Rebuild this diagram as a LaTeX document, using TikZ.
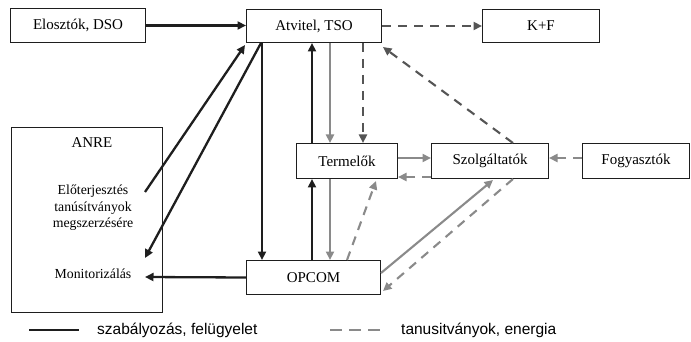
\documentclass[tikz,border=0pt]{standalone}
\usepackage{fontspec}
\setmainfont{Liberation Serif}
\newfontfamily\legfont{Liberation Sans}
\usetikzlibrary{arrows.meta,calc}
\definecolor{blk}{HTML}{1E1E1E}
\definecolor{gry}{HTML}{8A8A8A}
\definecolor{dgry}{HTML}{555555}
\tikzset{
  box/.style={draw=blk,line width=1pt,anchor=north west,inner sep=0pt,minimum height=#1,font=\fontsize{15}{18}\selectfont},
  box/.default=33pt,
  txt/.style={inner sep=0pt,font=\fontsize{13.8}{16.5}\selectfont,align=center},
  tip/.style={-{Triangle[length=8.5pt,width=8pt]}},
  blackarr/.style={tip,draw=blk,line width=2.3pt},
  grayarr/.style={tip,draw=gry,line width=2.1pt},
  dasharr/.style={tip,draw=dgry,line width=2.1pt,dash pattern=on 9pt off 7pt},
  gdasharr/.style={tip,draw=gry,line width=2.1pt,dash pattern=on 9pt off 7pt},
}
\begin{document}
\begin{tikzpicture}[x=1pt,y=-1pt]
\useasboundingbox (0,0) rectangle (691,342);
% boxes
\node[box=34pt,minimum width=135pt] (dso) at (10,8) {Elosztók, DSO};
\node[box,minimum width=135pt] (tso) at (246,9) {Atvitel, TSO};
\node[box,minimum width=117pt] (kf) at (482,9) {K+F};
\node[box=185pt,minimum width=151pt] (anre) at (11,127) {};
\node[box=35pt,minimum width=101pt] (term) at (296,143) {Termelők};
\node[box=35pt,minimum width=117pt] (szolg) at (431,143) {Szolgáltatók};
\node[box=35pt,minimum width=107pt] (fogy) at (582,143) {Fogyasztók};
\node[box=34pt,minimum width=134pt] (opcom) at (246,260) {OPCOM};
% ANRE texts
\node[txt,font=\fontsize{15}{18}\selectfont] (anret) at (92,143) {ANRE};
\node[txt] (elo) at (93,208) {Előterjesztés\\tanúsítványok\\megszerzésére};
\node[txt] (mon) at (93,274) {Monitorizálás};
\coordinate (a1) at ($(anre.north west)+(134,65)$);
\coordinate (a2) at ($(anre.north west)+(134,131)$);
\coordinate (a3) at ($(anre.north west)+(134,150)$);
% connectors
\draw[blackarr] (dso.east) -- (tso.west |- dso.east);
\draw[dasharr] (tso.east) -- (kf.west);
\draw[dasharr] ($(szolg.north west)+(82,0)$) -- ($(tso.south east)+(1,4)$);
\draw[dasharr] ($(tso.south west)+(117,0)$) -- ($(term.north west)+(67,0)$);
\draw[grayarr] ($(tso.south west)+(84,0)$) -- ($(term.north west)+(34,0)$);
\draw[blackarr] ($(term.north west)+(16,0)$) -- ($(tso.south west)+(66,0)$);
\draw[blackarr] ($(tso.south west)+(16,0)$) -- ($(opcom.north west)+(16,0)$);
\draw[blackarr] (a1) -- ($(tso.south west)+(-1,2)$);
\draw[blackarr] ($(tso.south west)+(15,0)$) -- (a2);
\draw[blackarr] (opcom.west) -- (a3);
\draw[blackarr] ($(opcom.north west)+(66,0)$) -- ($(term.south west)+(16,0)$);
\draw[grayarr] ($(term.south west)+(34,0)$) -- ($(opcom.north west)+(84,0)$);
\draw[gdasharr] ($(opcom.north west)+(101,0)$) -- ($(term.south west)+(80,2)$);
\draw[grayarr] ($(term.north east)+(0,15)$) -- ($(szolg.north west)+(0,15)$);
\draw[gdasharr] ($(szolg.south west)+(0,-2)$) -- ($(term.south east)+(0,-2)$);
\draw[gdasharr] ($(fogy.north west)+(0,15)$) -- ($(szolg.north east)+(0,15)$);
\draw[grayarr] ($(opcom.north east)+(0,13)$) -- ($(szolg.south west)+(62,1)$);
\draw[gdasharr] ($(szolg.south west)+(82,0)$) -- ($(opcom.south east)+(2,-4)$);
% legend
\coordinate (l1a) at (29,330); \coordinate (l1b) at (79,330);
\coordinate (l2a) at (330,330); \coordinate (l2b) at (382,330);
\draw[draw=blk,line width=2pt] (l1a) -- (l1b);
\draw[draw=gry,line width=2pt,dash pattern=on 12pt off 7pt] (l2a) -- (l2b);
\node[anchor=west,inner sep=0pt,font=\legfont\fontsize{15.5}{18}\selectfont] (leg1) at (97,330) {szabályozás, felügyelet};
\node[anchor=west,inner sep=0pt,font=\legfont\fontsize{15.5}{18}\selectfont] (leg2) at (401,330) {tanusitványok, energia};
\end{tikzpicture}
\end{document}
